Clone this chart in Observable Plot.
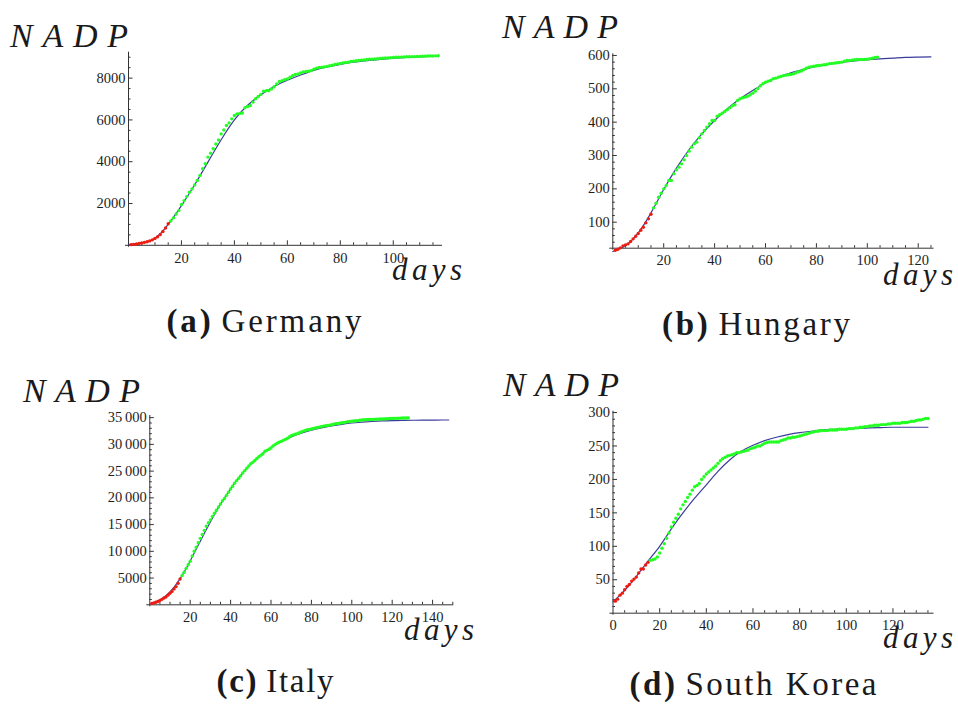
<!DOCTYPE html>
<html><head><meta charset="utf-8">
<script src="https://cdn.jsdelivr.net/npm/d3@7"></script>
<script src="https://cdn.jsdelivr.net/npm/@observablehq/plot@0.6"></script>
<style>
body{margin:0;background:#fff;}
#page{position:relative;width:958px;height:704px;overflow:hidden;background:#fff;}
.panel{position:absolute;}
#overlay{position:absolute;left:0;top:0;pointer-events:none;}
</style></head><body><div id="page"></div>
<script>
// ---------- DATA ----------
// Germany: cumulative deaths, days 1..15 (red) and 16..117 (green)
const germanyRed = [30, 45, 65, 85, 110, 140, 170, 210, 260, 330, 410, 520, 660, 830, 1030];
const germanyGreen = [1160, 1310, 1500, 1660, 1950, 2140, 2330, 2540, 2700, 2890, 3100, 3340, 3660, 3900, 4220,
  4410, 4620, 4850, 5040, 5330, 5520, 5730, 5860, 6050, 6210, 6290, 6310, 6330, 6580, 6640, 6690, 6850, 7010,
  7120, 7220, 7370, 7400, 7400, 7480, 7590, 7720, 7840, 7880, 7930, 7960, 8040, 8110, 8170, 8200, 8250, 8290,
  8320, 8330, 8360, 8430, 8480, 8510, 8520, 8540, 8560, 8590, 8620, 8650, 8680, 8700, 8730, 8750, 8760, 8800,
  8810, 8830, 8840, 8860, 8870, 8890, 8900, 8905, 8920, 8930, 8935, 8950, 8960, 8965, 8975, 8990, 8995, 9000,
  9005, 9010, 9020, 9025, 9030, 9030, 9035, 9040, 9045, 9050, 9055, 9060, 9060, 9065, 9070];
const germanyFitDays = [0, 5, 10, 15, 20, 25, 30, 35, 40, 45, 50, 55, 60, 65, 70, 75, 80, 85, 90, 95, 100, 105, 110, 117];
const germanyFit = [30, 100, 330, 1000, 1900, 2900, 3980, 5050, 6000, 6700, 7200, 7600, 7900, 8150, 8370, 8530, 8660, 8760, 8840, 8900, 8950, 8990, 9020, 9060];

// Hungary
const hungaryRed = [16, 19, 23, 29, 32, 35, 42, 50, 58, 66, 76, 85, 98, 110, 124];
const hungaryGreen = [143, 157, 175, 187, 200, 210, 225, 225, 245, 257, 265, 275, 287, 300, 313, 325, 335, 340,
  353, 365, 375, 385, 395, 405, 405, 418, 422, 427, 432, 437, 443, 449, 452, 465, 470, 473, 475, 478, 482, 487,
  493, 501, 509, 515, 520, 523, 525, 530, 532, 535, 537, 539, 541, 542, 543, 545, 548, 551, 553, 557, 562, 565,
  566, 568, 569, 570, 571, 572, 573, 575, 576, 577, 578, 579, 580, 583, 585, 585, 586, 587, 588, 588, 588, 588,
  589, 590, 592, 594, 595];
const hungaryFitDays = [0, 5, 10, 15, 20, 25, 30, 35, 40, 45, 50, 55, 60, 65, 70, 75, 80, 85, 90, 95, 100, 105, 110, 115, 120, 125];
const hungaryFit = [12, 30, 68, 128, 198, 262, 318, 365, 405, 440, 470, 495, 518, 535, 548, 558, 567, 574, 580, 584, 587, 590, 592, 594, 595, 596];

// Italy
const italyRed = [233, 366, 463, 631, 827, 1016, 1266, 1441, 1809, 2158, 2503, 2978, 3405, 4032, 4825];
const italyGreen = [5476, 6077, 6820, 7503, 8165, 9134, 10023, 10779, 11591, 12428, 13155, 13915, 14681, 15362,
  15887, 16523, 17127, 17669, 18279, 18849, 19468, 19899, 20465, 21067, 21645, 22170, 22745, 23227, 23660, 24114,
  24648, 25085, 25549, 25969, 26384, 26644, 26977, 27359, 27682, 27967, 28236, 28710, 28884, 29079, 29315, 29684,
  29958, 30201, 30395, 30560, 30739, 30911, 31106, 31368, 31610, 31763, 31908, 32007, 32169, 32330, 32486, 32616,
  32735, 32785, 32877, 32955, 33072, 33142, 33229, 33340, 33415, 33475, 33530, 33601, 33689, 33774, 33846, 33899,
  33964, 34043, 34114, 34167, 34223, 34301, 34345, 34371, 34405, 34448, 34514, 34561, 34610, 34634, 34657, 34675,
  34644, 34678, 34708, 34716, 34738, 34744, 34767, 34788, 34818, 34833, 34854, 34861, 34869, 34899, 34914, 34926,
  34938, 34945, 34954];
const italyFitDays = [0, 5, 10, 15, 20, 25, 30, 35, 40, 45, 50, 55, 60, 65, 70, 75, 80, 85, 90, 95, 100, 105, 110, 115, 120, 125, 130, 135, 140, 145, 148];
const italyFit = [100, 900, 2400, 4900, 8200, 11900, 15500, 18800, 21700, 24200, 26300, 28000, 29400, 30500, 31400, 32100, 32650, 33100, 33450, 33750, 34000, 34150, 34280, 34380, 34440, 34480, 34510, 34530, 34545, 34555, 34560];

// South Korea
const koreaRed = [18, 21, 27, 30, 35, 40, 43, 48, 51, 54, 60, 66, 66, 72, 76];
const koreaGreen = [79, 80, 81, 84, 90, 97, 104, 112, 120, 129, 136, 142, 148, 156, 162, 167, 173, 178, 184, 189,
  191, 194, 200, 204, 208, 211, 214, 217, 220, 224, 228, 231, 233, 235, 236, 237, 238, 240, 240, 241, 242, 243,
  244, 246, 247, 248, 250, 250, 252, 254, 255, 256, 256, 256, 256, 256, 258, 259, 260, 262, 262, 263, 263, 264,
  265, 266, 267, 268, 269, 270, 271, 272, 272, 273, 273, 273, 273, 274, 274, 274, 274, 275, 275, 275, 275, 276,
  276, 276, 277, 277, 278, 278, 279, 279, 280, 280, 281, 281, 281, 282, 282, 282, 283, 283, 284, 284, 284, 284,
  285, 285, 285, 286, 287, 287, 288, 289, 289, 290, 291, 291];
const koreaFitDays = [0, 5, 10, 15, 20, 25, 30, 35, 40, 45, 50, 55, 60, 65, 70, 75, 80, 85, 90, 95, 100, 105, 110, 115, 120, 125, 130, 135];
const koreaFit = [17, 34, 55, 78, 100, 126, 150, 172, 192, 212, 229, 242, 251, 258, 263, 267, 270, 272, 274, 275, 276, 276.5, 277, 277.5, 278, 278, 278, 278];

// Tick values
const germanyYTicks = [2000, 4000, 6000, 8000];
const hungaryYTicks = [100, 200, 300, 400, 500, 600];
const italyYTicks = [5000, 10000, 15000, 20000, 25000, 30000, 35000];
const koreaYTicks = [50, 100, 150, 200, 250, 300];

const captions = [["(a)", "Germany"], ["(b)", "Hungary"], ["(c)", "Italy"], ["(d)", "South Korea"]];
const yTitle = "NADP";
const xTitle = "days";

// ---------- LAYOUT ----------
const FONT = "Liberation Serif";
const page = document.getElementById("page");
const INK = "#333";
const BLUE = "#3b3b9b";
const RED = "#ee1c10";
const GREEN = "#22ff22";

function makeData(red, green) {
  return [
    ...red.map((v, i) => ({day: i + 1, v, kind: "red"})),
    ...green.map((v, i) => ({day: red.length + i + 1, v, kind: "green"}))
  ];
}

function fmtItaly(d) {
  return d >= 10000 ? d3.format("d")(d).replace(/(\d\d)(\d{3})$/, "$1\u2009$2") : String(d);
}

function panel(cfg) {
  const pts = makeData(cfg.red, cfg.green);
  const fit = cfg.fitDays.map((d, i) => ({day: d, v: cfg.fit[i]}));
  const [y0, y1] = cfg.yDomain;
  const xMajor = d3.range(cfg.xStart, cfg.xDomain[1], 20);
  const xMinor = d3.range(0, cfg.xDomain[1], 5).filter(d => d % 20 !== 0);
  const yMinor = d3.range(Math.ceil(y0 / cfg.yMinorStep) * cfg.yMinorStep, y1, cfg.yMinorStep)
    .filter(d => d % cfg.yMajorStep !== 0 && d > y0);
  const yMajor = cfg.yTicks;
  const xMajorTicks = d3.range(20, cfg.xDomain[1], 20);
  const chart = Plot.plot({
    width: cfg.width, height: cfg.height,
    marginLeft: cfg.ml, marginRight: cfg.mr, marginTop: cfg.mt, marginBottom: cfg.mb,
    x: {domain: cfg.xDomain},
    y: {domain: cfg.yDomain},
    style: {fontFamily: FONT, fontSize: "14.5px", color: "#1e1e1e", background: "transparent", overflow: "visible"},
    marks: [
      Plot.ruleY([y0], {stroke: INK, strokeWidth: 1, insetLeft: -3}),
      Plot.ruleX([0], {stroke: INK, strokeWidth: 1, insetBottom: -2}),
      Plot.axisX(xMajorTicks, {tickSize: -4.5, tickFormat: () => "", label: null, stroke: INK}),
      Plot.axisX(xMinor, {tickSize: -2.5, tickFormat: () => "", label: null, stroke: INK}),
      Plot.axisX(xMajor, {tickSize: 0, tickPadding: 7, label: null, fill: "#1e1e1e", fontFamily: FONT}),
      Plot.axisY(yMajor, {tickSize: -4.5, tickFormat: () => "", label: null, stroke: INK}),
      Plot.axisY(yMinor, {tickSize: -2.5, tickFormat: () => "", label: null, stroke: INK}),
      Plot.axisY(yMajor, {tickSize: 0, tickPadding: 3, label: null, tickFormat: cfg.yFormat || (d => String(d)), fill: "#1e1e1e", fontFamily: FONT}),
      Plot.line(fit, {x: "day", y: "v", curve: "natural", stroke: BLUE, strokeWidth: 1.2}),
      Plot.dot(pts.filter(d => d.kind === "green"), {x: "day", y: "v", r: 1.7, fill: GREEN, stroke: "none"}),
      Plot.dot(pts.filter(d => d.kind === "red"), {x: "day", y: "v", r: 1.7, fill: RED, stroke: "none"})
    ]
  });
  const wrap = document.createElement("div");
  wrap.className = "panel";
  wrap.style.left = cfg.left + "px";
  wrap.style.top = cfg.top + "px";
  wrap.appendChild(chart);
  page.appendChild(wrap);
}

panel({left: 0, top: 0, width: 479, height: 300, ml: 128, mr: 37, mt: 51.7, mb: 55.2,
  xDomain: [0, 118.6], yDomain: [0, 9240], xStart: 20, yTicks: germanyYTicks, yMajorStep: 2000, yMinorStep: 500,
  red: germanyRed, green: germanyGreen, fitDays: germanyFitDays, fit: germanyFit});
panel({left: 479, top: 0, width: 479, height: 300, ml: 133.3, mr: 24.5, mt: 53.3, mb: 52.3,
  xDomain: [0, 126.2], yDomain: [22, 605], xStart: 20, yTicks: hungaryYTicks, yMajorStep: 100, yMinorStep: 20,
  red: hungaryRed, green: hungaryGreen, fitDays: hungaryFitDays, fit: hungaryFit});
panel({left: 0, top: 360, width: 479, height: 300, ml: 149.3, mr: 25.7, mt: 55, mb: 55.7,
  xDomain: [0, 150.5], yDomain: [0, 35400], xStart: 20, yTicks: italyYTicks, yMajorStep: 5000, yMinorStep: 1000,
  red: italyRed, green: italyGreen, fitDays: italyFitDays, fit: italyFit, yFormat: fmtItaly});
panel({left: 479, top: 360, width: 479, height: 300, ml: 133.5, mr: 24.5, mt: 50.7, mb: 47.3,
  xDomain: [0, 137.6], yDomain: [0, 302], xStart: 0, yTicks: koreaYTicks, yMajorStep: 50, yMinorStep: 10,
  red: koreaRed, green: koreaGreen, fitDays: koreaFitDays, fit: koreaFit});

// ---------- Titles and captions (SVG text, spacing via textLength) ----------
const svg = d3.select(page).append("svg").attr("id", "overlay")
  .attr("width", 958).attr("height", 704)
  .attr("font-family", FONT).style("font-family", FONT).attr("fill", "#1a1a1a");

function title(txt, x, baseline, size, len, italic) {
  svg.append("text").attr("x", x).attr("y", baseline)
    .attr("font-size", size).attr("font-style", italic ? "italic" : "normal")
    .attr("textLength", len).attr("lengthAdjust", "spacing")
    .text(txt);
}
[[10, 47, 118], [502, 38.3, 116], [23, 401.7, 117], [503, 395.7, 116]].forEach(([x, b, l]) => title(yTitle, x, b, 34, l, true));
[[392, 280, 70], [883, 285, 70], [404, 640, 70], [883, 648.3, 70]].forEach(([x, b, l]) => title(xTitle, x, b, 31, l, true));

const capPos = [[264, 331.7, 195], [756, 335, 188], [275, 691.7, 117], [753, 695, 247]];
captions.forEach(([tag, name], i) => {
  const [cx, b, len] = capPos[i];
  const t = svg.append("text").attr("x", cx).attr("y", b).attr("font-size", 33)
    .attr("text-anchor", "middle").attr("textLength", len).attr("lengthAdjust", "spacing");
  t.append("tspan").attr("font-weight", "bold").text(tag);
  t.append("tspan").attr("dx", 8).text(name);
});
</script>
</body></html>
